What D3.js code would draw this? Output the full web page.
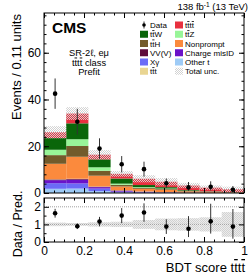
<!DOCTYPE html>
<html>
<head>
<meta charset="utf-8">
<script src="https://cdn.jsdelivr.net/npm/d3@7"></script>
<style>
  body { margin: 0; background: #fff; }
  svg { font-family: "Liberation Sans", Arial, sans-serif; }
  .bar { text-decoration: overline; }
</style>
</head>
<body>
<svg id="plot" width="249" height="275"></svg>
<script>
// bin edges of the BDT score
var binEdges = [0, 0.111, 0.222, 0.333, 0.444, 0.556, 0.667, 0.778, 0.889, 1];

// stacked backgrounds, bottom to top
var otherT    = [1.8, 1.9, 0.8, 0.2, 0.1, 0.1, 0.05, 0.02, 0.01];
var xGamma    = [2.4, 2.2, 1.1, 0.4, 0.2, 0.1, 0.05, 0.03, 0.02];
var chargeMis = [1.3, 1.6, 0.6, 0.3, 0.2, 0.1, 0.05, 0.03, 0.02];
var vvv       = [0.3, 0.3, 0.2, 0.2, 0.1, 0.05, 0.05, 0.02, 0.01];
var ttt       = [0.1, 0.1, 0.1, 0.1, 0.1, 0.05, 0.0, 0.0, 0.0];
var nonprompt = [6.6, 9.4, 4.6, 1.6, 1.1, 1.0, 0.5, 0.3, 0.14];
var ttH       = [3.7, 4.6, 2.1, 0.7, 0.4, 0.3, 0.15, 0.1, 0.05];
var ttZ       = [2.3, 2.9, 1.5, 0.5, 0.3, 0.2, 0.1, 0.05, 0.03];
var ttW       = [5.0, 6.8, 3.4, 2.2, 0.9, 0.6, 0.3, 0.15, 0.07];
var tttt      = [2.5, 4.2, 2.0, 2.0, 2.7, 2.3, 1.95, 1.6, 1.25];

// relative total uncertainty per bin
var uncRel = [0.1, 0.08, 0.12, 0.15, 0.25, 0.33, 0.35, 0.4, 0.7];

// observed data
var dataVal   = [42.5, 30.5, 19, 12.3, 10.2, 4.2, 2.4, 2.7, 1.4];
var dataErrLo = [6.5, 5.5, 4.4, 3.5, 3.2, 2.0, 1.5, 1.6, 1.1];
var dataErrHi = [6.5, 5.5, 4.4, 3.5, 3.2, 2.0, 2.3, 2.3, 1.6];

var procs = [
  {key: "otherT",    vals: otherT,    color: "#9ecbf6"},
  {key: "xGamma",    vals: xGamma,    color: "#6b6bf7"},
  {key: "chargeMis", vals: chargeMis, color: "#6a12c9"},
  {key: "vvv",       vals: vvv,       color: "#5e0b3b"},
  {key: "ttt",       vals: ttt,       color: "#e9d592"},
  {key: "nonprompt", vals: nonprompt, color: "#fb8a3d"},
  {key: "ttH",       vals: ttH,       color: "#735b2b"},
  {key: "ttZ",       vals: ttZ,       color: "#98f598"},
  {key: "ttW",       vals: ttW,       color: "#0a660a"},
  {key: "tttt",      vals: tttt,      color: "#e8303f"}
];

var bins = d3.range(dataVal.length).map(function(i){
  var row = {i: i, lo: binEdges[i], hi: binEdges[i+1]};
  procs.forEach(function(p){ row[p.key] = p.vals[i]; });
  return row;
});
var total = bins.map(function(b){
  return d3.sum(procs, function(p){ return b[p.key]; });
});

var x  = d3.scaleLinear().domain([0, 1]).range([44, 244]);
var y  = d3.scaleLinear().domain([0, 77]).range([193, 13]);
var yr = d3.scaleLinear().domain([0, 2.5]).range([242, 198]);

var svg = d3.select("#plot");

// "t~" means t with a bar on top
function barText(sel, str) {
  var parts = str.split(/(t~)/).filter(function(s){ return s.length; });
  parts.forEach(function(p){
    if (p == "t~") sel.append("tspan").attr("class", "bar").text("t");
    else sel.append("tspan").text(p);
  });
  return sel;
}

// hatch for uncertainty
var defs = svg.append("defs");
var pat = defs.append("pattern").attr("id", "hatch")
  .attr("patternUnits", "userSpaceOnUse").attr("width", 2).attr("height", 2);
pat.append("rect").attr("x", 0).attr("y", 0).attr("width", 1).attr("height", 1).attr("fill", "#d2d2d2");
pat.append("rect").attr("x", 1).attr("y", 1).attr("width", 1).attr("height", 1).attr("fill", "#d2d2d2");

// stack
var series = d3.stack().keys(procs.map(function(p){return p.key;}))(bins);
var colorOf = {};
procs.forEach(function(p){ colorOf[p.key] = p.color; });

svg.append("g").selectAll("g")
  .data(series)
  .enter().append("g")
  .attr("fill", function(d){ return colorOf[d.key]; })
  .selectAll("rect")
  .data(function(d){ return d; })
  .enter().append("rect")
  .attr("x", function(d){ return x(d.data.lo); })
  .attr("width", function(d){ return x(d.data.hi) - x(d.data.lo); })
  .attr("y", function(d){ return y(d[1]); })
  .attr("height", function(d){ return Math.max(0, y(d[0]) - y(d[1])); });

// total unc. band, main
svg.append("g").selectAll("rect")
  .data(bins)
  .enter().append("rect")
  .attr("x", function(d){ return x(d.lo); })
  .attr("width", function(d){ return x(d.hi) - x(d.lo); })
  .attr("y", function(d){ return y(total[d.i] * (1 + uncRel[d.i])); })
  .attr("height", function(d){ return y(total[d.i] * (1 - uncRel[d.i])) - y(total[d.i] * (1 + uncRel[d.i])); })
  .attr("fill", "url(#hatch)");

// data, main
var gd = svg.append("g");
gd.selectAll("line")
  .data(bins)
  .enter().append("line")
  .attr("x1", function(d){ return x((d.lo + d.hi) / 2); })
  .attr("x2", function(d){ return x((d.lo + d.hi) / 2); })
  .attr("y1", function(d){ return y(dataVal[d.i] - dataErrLo[d.i]); })
  .attr("y2", function(d){ return y(dataVal[d.i] + dataErrHi[d.i]); })
  .attr("stroke", "#333").attr("stroke-width", 1);
gd.selectAll("circle")
  .data(bins)
  .enter().append("circle")
  .attr("cx", function(d){ return x((d.lo + d.hi) / 2); })
  .attr("cy", function(d){ return y(dataVal[d.i]); })
  .attr("r", 2.3).attr("fill", "#000");

// ratio panel
var rclip = defs.append("clipPath").attr("id", "rclip");
rclip.append("rect").attr("x", 44).attr("y", 198).attr("width", 200).attr("height", 44);
var gr = svg.append("g").attr("clip-path", "url(#rclip)");

gr.selectAll("rect.bg")
  .data(bins)
  .enter().append("rect").attr("class", "bg")
  .attr("x", function(d){ return x(d.lo); })
  .attr("width", function(d){ return x(d.hi) - x(d.lo); })
  .attr("y", function(d){ return yr(1 + uncRel[d.i]); })
  .attr("height", function(d){ return yr(1 - uncRel[d.i]) - yr(1 + uncRel[d.i]); })
  .attr("fill", "#ececec");
gr.selectAll("rect.ht")
  .data(bins)
  .enter().append("rect").attr("class", "ht")
  .attr("x", function(d){ return x(d.lo); })
  .attr("width", function(d){ return x(d.hi) - x(d.lo); })
  .attr("y", function(d){ return yr(1 + uncRel[d.i]); })
  .attr("height", function(d){ return yr(1 - uncRel[d.i]) - yr(1 + uncRel[d.i]); })
  .attr("fill", "url(#hatch)");

[1, 2].forEach(function(v){
  gr.append("line")
    .attr("x1", 44).attr("x2", 244)
    .attr("y1", yr(v)).attr("y2", yr(v))
    .attr("stroke", "#a0a0a0").attr("stroke-width", 1)
    .attr("stroke-dasharray", "1,1");
});

gr.selectAll("line.err")
  .data(bins)
  .enter().append("line").attr("class", "err")
  .attr("x1", function(d){ return x((d.lo + d.hi) / 2); })
  .attr("x2", function(d){ return x((d.lo + d.hi) / 2); })
  .attr("y1", function(d){ return yr((dataVal[d.i] - dataErrLo[d.i]) / total[d.i]); })
  .attr("y2", function(d){ return yr((dataVal[d.i] + dataErrHi[d.i]) / total[d.i]); })
  .attr("stroke", "#333").attr("stroke-width", 1);
gr.selectAll("circle")
  .data(bins)
  .enter().append("circle")
  .attr("cx", function(d){ return x((d.lo + d.hi) / 2); })
  .attr("cy", function(d){ return yr(dataVal[d.i] / total[d.i]); })
  .attr("r", 2.3).attr("fill", "#000");

// axes: ticks point inward, CMS style
function styleAxis(g) {
  g.select(".domain").remove();
  g.selectAll("line").attr("stroke", "#000");
  g.selectAll("text").attr("font-size", 12).attr("fill", "#000")
    .attr("font-family", "Liberation Sans, Arial, sans-serif");
}
function noLabels(g) {
  g.select(".domain").remove();
  g.selectAll("line").attr("stroke", "#000");
  g.selectAll("text").remove();
}

var yMajor = [0, 20, 40, 60];
var yMinor = d3.range(0, 77, 4);
svg.append("g").attr("transform", "translate(44,0)")
  .call(d3.axisLeft(y).tickValues(yMajor).tickSize(-5).tickPadding(3).tickFormat(d3.format("d"))).call(styleAxis);
svg.append("g").attr("transform", "translate(44,0)")
  .call(d3.axisLeft(y).tickValues(yMinor).tickSize(-2.5)).call(noLabels);
svg.append("g").attr("transform", "translate(244,0)")
  .call(d3.axisRight(y).tickValues(yMajor).tickSize(-5)).call(noLabels);
svg.append("g").attr("transform", "translate(244,0)")
  .call(d3.axisRight(y).tickValues(yMinor).tickSize(-2.5)).call(noLabels);

var xMajor = [0, 0.2, 0.4, 0.6, 0.8, 1];
var xMinor = d3.range(0, 1.001, 0.05);
[193, 198].forEach(function(yy){
  svg.append("g").attr("transform", "translate(0," + yy + ")")
    .call((yy == 193 ? d3.axisBottom(x) : d3.axisTop(x)).tickValues(xMajor).tickSize(-5)).call(noLabels);
  svg.append("g").attr("transform", "translate(0," + yy + ")")
    .call((yy == 193 ? d3.axisBottom(x) : d3.axisTop(x)).tickValues(xMinor).tickSize(-2.5)).call(noLabels);
});
svg.append("g").attr("transform", "translate(0,13)")
  .call(d3.axisTop(x).tickValues(xMajor).tickSize(-5)).call(noLabels);
svg.append("g").attr("transform", "translate(0,13)")
  .call(d3.axisTop(x).tickValues(xMinor).tickSize(-2.5)).call(noLabels);
svg.append("g").attr("transform", "translate(0,242)")
  .call(d3.axisBottom(x).tickValues(xMajor).tickSize(-5).tickPadding(4).tickFormat(function(d){ return d == 0 || d == 1 ? d3.format("d")(d) : d3.format(".1f")(d); }))
  .call(styleAxis);
svg.append("g").attr("transform", "translate(0,242)")
  .call(d3.axisBottom(x).tickValues(xMinor).tickSize(-2.5)).call(noLabels);

var rMajor = [0, 1, 2];
var rMinor = [0.5, 1.5];
svg.append("g").attr("transform", "translate(44,0)")
  .call(d3.axisLeft(yr).tickValues(rMajor).tickSize(-5).tickPadding(3).tickFormat(d3.format("d"))).call(styleAxis);
svg.append("g").attr("transform", "translate(44,0)")
  .call(d3.axisLeft(yr).tickValues(rMinor).tickSize(-2.5)).call(noLabels);
svg.append("g").attr("transform", "translate(244,0)")
  .call(d3.axisRight(yr).tickValues(rMajor).tickSize(-5)).call(noLabels);

// frames
svg.append("rect").attr("x", 44).attr("y", 13).attr("width", 200).attr("height", 180)
  .attr("fill", "none").attr("stroke", "#000").attr("stroke-width", 1);
svg.append("rect").attr("x", 44).attr("y", 198).attr("width", 200).attr("height", 44)
  .attr("fill", "none").attr("stroke", "#000").attr("stroke-width", 1);

// titles
svg.append("text").attr("transform", "translate(21,14) rotate(-90)")
  .attr("text-anchor", "end").attr("font-size", 13).text("Events / 0.11 units");
svg.append("text").attr("transform", "translate(22,224) rotate(-90)")
  .attr("text-anchor", "middle").attr("font-size", 12.5).text("Data / Pred.");
barText(svg.append("text").attr("x", 245).attr("y", 272)
  .attr("text-anchor", "end").attr("font-size", 13), "BDT score tt~tt~");

svg.append("text").attr("x", 248).attr("y", 10)
  .attr("text-anchor", "end").attr("font-size", 9.5)
  .html('138 fb<tspan dy="-3.5" font-size="6.5">-1</tspan><tspan dy="3.5"> (13 TeV)</tspan>');
svg.append("text").attr("x", 52).attr("y", 33)
  .attr("font-size", 15.5).attr("font-weight", "bold").text("CMS");

var info = ["SR-2\u2113, e\u03bc", "tt~tt~ class", "Prefit"];
var infoY = [55.5, 65.5, 74.5];
info.forEach(function(t, i){
  barText(svg.append("text").attr("x", 89).attr("y", infoY[i])
    .attr("text-anchor", "middle").attr("font-size", 9.3), t);
});

// legend
var legCol1 = [
  {label: "Data", type: "data"},
  {label: "tt~W", color: "#0a660a"},
  {label: "tt~H", color: "#735b2b"},
  {label: "VV(V)", color: "#5e0b3b"},
  {label: "X\u03b3", color: "#6b6bf7"},
  {label: "tt~t", color: "#e9d592"}
];
var legCol2 = [
  {label: "tt~tt~", color: "#e8303f"},
  {label: "tt~Z", color: "#98f598"},
  {label: "Nonprompt", color: "#fb8a3d"},
  {label: "Charge misID", color: "#6a12c9"},
  {label: "Other t", color: "#9ecbf6"},
  {label: "Total unc.", type: "unc"}
];
function drawLegend(items, x0) {
  var g = svg.append("g");
  items.forEach(function(it, i){
    var cy = 25 + i * 9.25;
    if (it.type == "data") {
      g.append("line").attr("x1", x0 + 4).attr("x2", x0 + 4).attr("y1", cy - 3.5).attr("y2", cy + 3.5)
        .attr("stroke", "#333").attr("stroke-width", 1);
      g.append("circle").attr("cx", x0 + 4).attr("cy", cy).attr("r", 1.8).attr("fill", "#000");
    } else {
      g.append("rect").attr("x", x0).attr("y", cy - 3.5).attr("width", 8).attr("height", 7)
        .attr("fill", it.type == "unc" ? "url(#hatch)" : it.color);
    }
    barText(g.append("text").attr("x", x0 + 10).attr("y", cy + 3)
      .attr("font-size", 8), it.label);
  });
}
drawLegend(legCol1, 140);
drawLegend(legCol2, 175);
</script>
</body>
</html>
